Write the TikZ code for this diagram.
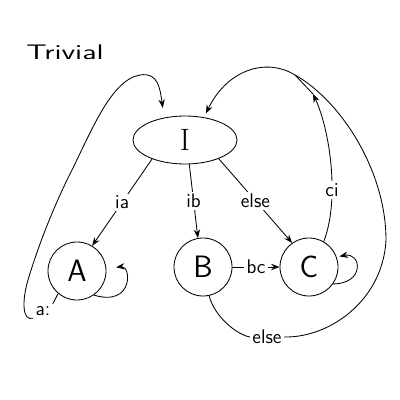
\documentclass[tikz,border=0pt]{standalone}
\usetikzlibrary{arrows.meta,shapes.geometric,calc}
\tikzset{
  state/.style={circle, draw, minimum size=1.45cm, inner sep=0pt, font=\sffamily\fontsize{22}{24}\selectfont},
  startblob/.style={ellipse, draw, minimum width=2.6cm, minimum height=1.2cm, inner sep=0pt, font=\rmfamily\fontsize{22}{24}\selectfont},
  lbl/.style={fill=white, inner sep=1.5pt, font=\sffamily\fontsize{14}{16}\selectfont},
  titletext/.style={font=\sffamily\fontsize{15}{18}\selectfont}
}
\begin{document}
\begin{tikzpicture}[x=0.025cm, y=-0.025cm, line width=0.6pt, >={Stealth[length=6pt,width=4.5pt]}]
\useasboundingbox (0,0) rectangle (400,400);
\node[titletext] (title) at (65,52) {\scalebox{1.45}[1]{Trivial}};
\node[startblob] (I) at (185,140) {I};
\node[state] (A) at (77,271) {A};
\node[state] (B) at (203,267) {B};
\node[state] (C) at (309,267) {C};

\draw[->] (I.210) -- node[lbl]{ia} (A.59);
\draw[->] (I.-80) -- node[lbl]{ib} (B.100);
\draw[->] (I.-29) -- node[lbl]{else} (C.125);
\draw[->] (B) -- node[lbl]{bc} (C);

\draw[->,shorten >=7pt] (A.-55) .. controls +(40,12) and +(25,-3) .. (A.5);
\draw[->,shorten >=2pt] (C.-35) .. controls +(32,0) and +(25,-5) .. (C.20);

\node[lbl,fill=none] (al) at (43,311) {a:};
\draw (A.-130) -- (al.north east);
\draw[->,shorten >=7pt] (al.south west) .. controls (22,322) and (22,300) .. (28,280)
  .. controls (40,240) and (55,205) .. (67,180)
  .. controls (90,135) and (110,80) .. (140,75)
  .. controls (158,72) and (160,88) .. (I.133);

\node[lbl] (e2) at (267,337) {else};
\coordinate (J) at (295,75);
\coordinate (ctip) at (313,94);
\draw (B.-78) .. controls (215,318) and (238,335) .. (e2.west);
\draw (e2.east) .. controls (330,338) and (383,300) .. (386,240)
  .. controls (386,170) and (340,100) .. (J);
\draw[->,shorten >=3pt] (J) .. controls (268,58) and (228,68) .. (I.50);
\draw[->] (C.60) .. controls (340,200) and (330,130) .. node[lbl,pos=0.35]{ci} (ctip);
\draw (ctip) -- (J);
\end{tikzpicture}
\end{document}
